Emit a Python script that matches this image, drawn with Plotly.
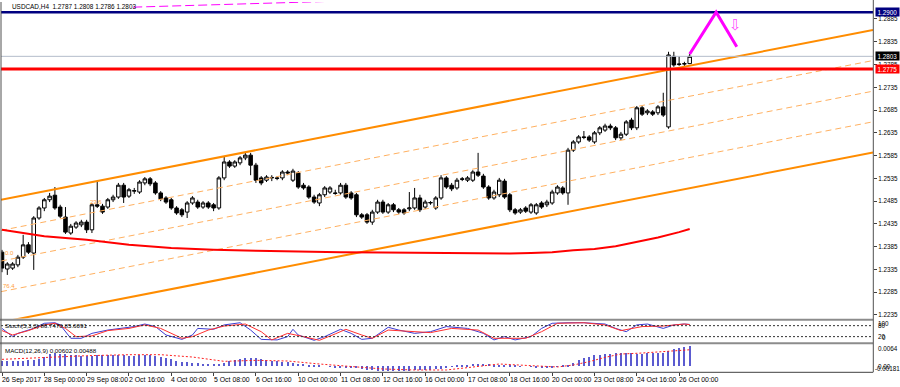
import plotly.graph_objects as go

W, H = 900, 387

# ---------------- data ----------------
bar_idx = list(range(131))
open_ = [1.2373,1.2336,1.2338,1.2345,1.2362,1.2389,1.2371,1.2448,1.2470,1.2488,
         1.2498,1.2472,1.2450,1.2415,1.2428,1.2433,1.2439,1.2422,1.2477,1.2474,
         1.2472,1.2488,1.2494,1.2520,1.2496,1.2507,1.2505,1.2525,1.2534,1.2525,
         1.2503,1.2492,1.2488,1.2470,1.2466,1.2461,1.2481,1.2483,1.2472,1.2481,
         1.2477,1.2470,1.2536,1.2571,1.2562,1.2569,1.2580,1.2586,1.2564,1.2536,
         1.2531,1.2536,1.2536,1.2536,1.2549,1.2531,1.2547,1.2520,1.2516,1.2494,
         1.2481,1.2499,1.2505,1.2503,1.2503,1.2520,1.2503,1.2499,1.2455,1.2455,
         1.2439,1.2461,1.2483,1.2461,1.2477,1.2466,1.2466,1.2468,1.2470,1.2492,
         1.2472,1.2481,1.2470,1.2492,1.2536,1.2520,1.2514,1.2534,1.2531,1.2531,
         1.2549,1.2540,1.2516,1.2492,1.2499,1.2529,1.2499,1.2466,1.2461,1.2470,
         1.2461,1.2459,1.2481,1.2477,1.2481,1.2503,1.2514,1.2503,1.2597,1.2615,
         1.2626,1.2626,1.2615,1.2635,1.2641,1.2650,1.2646,1.2624,1.2632,1.2663,
         1.2646,1.2690,1.2679,1.2681,1.2679,1.2692,1.2648,1.2803,1.2785,1.2786,
         1.2787]
high = [1.2378,1.2351,1.2351,1.2367,1.2411,1.2395,1.2452,1.2474,1.2492,1.2503,
        1.2516,1.2477,1.2472,1.2435,1.2441,1.2444,1.2444,1.2481,1.2527,1.2479,
        1.2492,1.2499,1.2525,1.2525,1.2514,1.2514,1.2531,1.2538,1.2538,1.2529,
        1.2507,1.2496,1.2492,1.2474,1.2470,1.2485,1.2496,1.2488,1.2485,1.2485,
        1.2481,1.2540,1.2582,1.2575,1.2575,1.2584,1.2593,1.2591,1.2569,1.2540,
        1.2542,1.2542,1.2540,1.2553,1.2553,1.2556,1.2551,1.2525,1.2520,1.2499,
        1.2503,1.2518,1.2518,1.2510,1.2525,1.2525,1.2507,1.2503,1.2459,1.2459,
        1.2466,1.2488,1.2488,1.2481,1.2481,1.2470,1.2470,1.2505,1.2514,1.2499,
        1.2488,1.2485,1.2496,1.2542,1.2540,1.2525,1.2536,1.2538,1.2540,1.2553,
        1.2591,1.2545,1.2520,1.2510,1.2536,1.2534,1.2503,1.2470,1.2470,1.2474,
        1.2481,1.2481,1.2485,1.2488,1.2510,1.2520,1.2518,1.2602,1.2619,1.2630,
        1.2639,1.2630,1.2639,1.2650,1.2655,1.2655,1.2650,1.2637,1.2663,1.2668,
        1.2694,1.2694,1.2687,1.2685,1.2696,1.2723,1.2813,1.2813,1.2803,1.2791,
        1.2808]
low = [1.2329,1.2323,1.2334,1.2340,1.2358,1.2369,1.2334,1.2444,1.2463,1.2483,
       1.2466,1.2448,1.2413,1.2411,1.2424,1.2428,1.2415,1.2415,1.2470,1.2457,
       1.2468,1.2483,1.2490,1.2481,1.2492,1.2501,1.2501,1.2520,1.2518,1.2499,
       1.2485,1.2479,1.2466,1.2455,1.2450,1.2448,1.2477,1.2468,1.2468,1.2468,
       1.2463,1.2466,1.2531,1.2558,1.2558,1.2564,1.2575,1.2542,1.2525,1.2520,
       1.2527,1.2529,1.2531,1.2531,1.2542,1.2527,1.2512,1.2510,1.2490,1.2479,
       1.2474,1.2494,1.2501,1.2499,1.2499,1.2490,1.2488,1.2450,1.2446,1.2435,
       1.2433,1.2457,1.2457,1.2457,1.2461,1.2457,1.2455,1.2463,1.2466,1.2461,
       1.2468,1.2477,1.2466,1.2488,1.2512,1.2507,1.2510,1.2529,1.2527,1.2527,
       1.2538,1.2512,1.2488,1.2488,1.2494,1.2490,1.2461,1.2455,1.2457,1.2459,
       1.2457,1.2455,1.2468,1.2472,1.2477,1.2499,1.2499,1.2477,1.2593,1.2611,
       1.2621,1.2615,1.2611,1.2630,1.2637,1.2641,1.2619,1.2619,1.2628,1.2641,
       1.2641,1.2672,1.2674,1.2672,1.2674,1.2670,1.2644,1.2780,1.2782,1.2782,
       1.2786]
close = [1.2338,1.2347,1.2347,1.2362,1.2389,1.2373,1.2448,1.2470,1.2488,1.2496,
         1.2470,1.2452,1.2417,1.2430,1.2437,1.2439,1.2422,1.2477,1.2474,1.2461,
         1.2488,1.2494,1.2520,1.2494,1.2510,1.2508,1.2527,1.2534,1.2523,1.2503,
         1.2490,1.2483,1.2470,1.2459,1.2455,1.2481,1.2492,1.2472,1.2481,1.2472,
         1.2470,1.2536,1.2571,1.2562,1.2571,1.2580,1.2586,1.2564,1.2531,1.2525,
         1.2538,1.2537,1.2535,1.2549,1.2547,1.2551,1.2516,1.2514,1.2494,1.2483,
         1.2499,1.2514,1.2514,1.2502,1.2520,1.2494,1.2492,1.2455,1.2450,1.2439,
         1.2461,1.2483,1.2461,1.2477,1.2466,1.2461,1.2459,1.2470,1.2492,1.2466,
         1.2483,1.2482,1.2492,1.2536,1.2516,1.2512,1.2531,1.2533,1.2536,1.2549,
         1.2542,1.2516,1.2492,1.2505,1.2531,1.2494,1.2466,1.2459,1.2466,1.2463,
         1.2477,1.2477,1.2472,1.2483,1.2505,1.2516,1.2503,1.2597,1.2615,1.2626,
         1.2625,1.2619,1.2635,1.2646,1.2650,1.2646,1.2624,1.2632,1.2659,1.2646,
         1.2690,1.2676,1.2683,1.2676,1.2692,1.2674,1.2806,1.2784,1.2786,1.2787,
         1.2803]

# moving average (read points)
ma_idx = [0, 8, 16, 24, 32, 40, 48, 56, 64, 72, 80, 88, 96, 100, 104, 108, 112, 116, 120, 124, 128, 130]
ma_val = [1.2422, 1.2408, 1.2400, 1.2389, 1.2382, 1.2378, 1.2376, 1.2374, 1.2373, 1.2372, 1.2371,
          1.2370, 1.2370, 1.2371, 1.2373, 1.2377, 1.2380, 1.2386, 1.2395, 1.2405, 1.2417, 1.2424]

# channel (anchor bars at left/right edge and prices of the upper line), width
chan_idx = [-0.19, 164.65]
chan_upper = [1.2488, 1.2861]
chan_width = 0.0269
chan_levels = [0.25, 0.5, 0.75]

hline_blue = 1.2900
hline_red = 1.2775
bid_price = 1.2803

zigzag_idx = [130, 135, 138.9]
zigzag_val = [1.2808, 1.2900, 1.2824]
arrow_at = (138.75, 1.2872)
top_dash_idx = [24.8, 65.8]
top_dash_val = [1.2911, 1.2925]

# stochastic
k_idx = [0, 2, 3, 6, 8, 10, 11, 13, 15, 17, 20, 22, 25, 27, 29, 31, 34, 36, 37, 40, 42, 45, 47, 49,
         52, 54, 55, 56, 59, 61, 64, 66, 68, 70, 73, 75, 78, 81, 84, 88, 91, 93, 95, 97, 100, 102,
         104, 107, 110, 114, 116, 118, 120, 122, 125, 127, 129, 130]
k_val = [65, 20, 38, 65, 93, 96, 84, 11, 11, 38, 56, 65, 75, 89, 75, 29, 5, 29, 65, 60, 84, 96, 56, 5,
         2, 20, 60, 29, 0, 20, 60, 38, 5, 11, 71, 56, 38, 47, 75, 65, 38, 2, 20, 2, 20, 65,
         93, 96, 96, 89, 65, 47, 84, 89, 65, 84, 89, 86.747]
d_idx = [0, 2, 5, 8, 10, 12, 14, 17, 20, 24, 27, 30, 34, 36, 39, 42, 46, 49, 51, 54, 57, 60, 63, 65,
         68, 70, 73, 77, 81, 85, 90, 93, 95, 99, 102, 105, 110, 114, 117, 121, 125, 129, 130]
d_val = [53, 29, 53, 84, 93, 65, 20, 24, 53, 65, 84, 65, 11, 20, 56, 78, 89, 47, 2, 38, 20, 0, 35, 60,
         29, 11, 56, 47, 42, 65, 56, 11, 11, 11, 47, 93, 96, 84, 53, 75, 78, 89, 85.6091]

# MACD
macd_hist = [0.0018,0.0018,0.0017,0.0017,0.0018,0.0019,0.0020,0.0024,0.0030,0.0038,
             0.0040,0.0039,0.0037,0.0035,0.0034,0.0033,0.0032,0.0033,0.0034,0.0034,
             0.0034,0.0034,0.0034,0.0034,0.0033,0.0033,0.0034,0.0035,0.0035,0.0033,
             0.0030,0.0026,0.0022,0.0018,0.0015,0.0013,0.0011,0.0010,0.0009,0.0008,
             0.0007,0.0008,0.0012,0.0016,0.0019,0.0022,0.0025,0.0027,0.0026,0.0024,
             0.0021,0.0018,0.0016,0.0014,0.0013,0.0011,0.0009,0.0007,0.0005,0.0003,
             0.0002,0.0000,-0.0001,-0.0002,-0.0002,-0.0003,-0.0004,-0.0006,-0.0008,-0.0010,
             -0.0012,-0.0013,-0.0014,-0.0015,-0.0015,-0.0015,-0.0014,-0.0013,-0.0012,-0.0011,
             -0.0010,-0.0010,-0.0009,-0.0007,-0.0004,-0.0001,0.0002,0.0004,0.0006,0.0007,
             0.0008,0.0008,0.0007,0.0006,0.0005,0.0004,0.0003,0.0002,0.0001,0.0000,
             -0.0001,-0.0002,-0.0003,-0.0003,-0.0002,-0.0001,0.0002,0.0006,0.0012,0.0020,
             0.0026,0.0030,0.0034,0.0036,0.0038,0.0039,0.0040,0.0040,0.0040,0.0040,
             0.0039,0.0039,0.0040,0.0040,0.0041,0.0042,0.0048,0.0054,0.0057,0.0059,
             0.00602]
sig_idx = [0, 8, 16, 24, 30, 36, 42, 48, 54, 60, 66, 72, 78, 84, 88, 94, 100, 105, 108, 111, 114,
           117, 121, 124, 130]
sig_val = [0.0020, 0.0026, 0.0031, 0.0034, 0.0034, 0.0027, 0.0014, 0.0017, 0.0015, 0.0006, -0.0002,
           -0.0009, -0.0012, -0.0012, -0.0005, 0.0006, 0.0001, -0.0003, 0.0003, 0.0013, 0.0026,
           0.0036, 0.0039, 0.0043, 0.00488]

price_ticks = [1.2235, 1.2285, 1.2335, 1.2385, 1.2435, 1.2485, 1.2535, 1.2585, 1.2635, 1.2685,
               1.2735, 1.2785, 1.2835, 1.2885]
time_tick_idx = [0, 8, 16, 24, 32, 40, 48, 56, 64, 72, 80, 88, 96, 104, 112, 120, 128]
time_tick_text = ["26 Sep 2017", "28 Sep 00:00", "29 Sep 08:00", "2 Oct 16:00", "4 Oct 00:00",
                  "5 Oct 08:00", "6 Oct 16:00", "10 Oct 00:00", "11 Oct 08:00", "12 Oct 16:00",
                  "16 Oct 00:00", "17 Oct 08:00", "18 Oct 16:00", "20 Oct 00:00", "23 Oct 08:00",
                  "24 Oct 16:00", "26 Oct 00:00"]

# ---------------- layout helpers (pixels -> paper) ----------------
def py(p):
    return (H - p) / H

def px(p):
    return p / W

FONT = "Liberation Sans"
X0, X1 = chan_idx

fig = go.Figure()

fig.add_trace(go.Candlestick(
    x=bar_idx, open=open_, high=high, low=low, close=close,
    increasing=dict(line=dict(color="black", width=1), fillcolor="white"),
    decreasing=dict(line=dict(color="black", width=1), fillcolor="black"),
    whiskerwidth=0, showlegend=False, hoverinfo="skip", xaxis="x", yaxis="y"))

# channel
orange = "#ff8c00"
fig.add_trace(go.Scatter(x=chan_idx, y=chan_upper, mode="lines",
                         line=dict(color=orange, width=2), xaxis="x", yaxis="y", showlegend=False))
fig.add_trace(go.Scatter(x=chan_idx, y=[v - chan_width for v in chan_upper], mode="lines",
                         line=dict(color=orange, width=2), xaxis="x", yaxis="y", showlegend=False))
for f in chan_levels:
    fig.add_trace(go.Scatter(x=chan_idx, y=[v - chan_width * f for v in chan_upper], mode="lines",
                             line=dict(color="#ffb060", width=1, dash="6px,4px"),
                             xaxis="x", yaxis="y", showlegend=False))

# moving average
fig.add_trace(go.Scatter(x=ma_idx, y=ma_val, mode="lines", line=dict(color="#ff0000", width=2),
                         xaxis="x", yaxis="y", showlegend=False))

# horizontal lines
for val, col, wd in [(bid_price, "#b4bccb", 1), (hline_red, "#ff0000", 3), (hline_blue, "#000080", 2.5)]:
    fig.add_trace(go.Scatter(x=[X0, X1], y=[val, val], mode="lines", line=dict(color=col, width=wd),
                             xaxis="x", yaxis="y", showlegend=False))

# magenta drawings
fig.add_trace(go.Scatter(x=zigzag_idx, y=zigzag_val, mode="lines", line=dict(color="#ff00ff", width=3),
                         xaxis="x", yaxis="y", showlegend=False))
fig.add_trace(go.Scatter(x=top_dash_idx, y=top_dash_val, mode="lines",
                         line=dict(color="#ff00ff", width=1, dash="9px,4px"),
                         xaxis="x", yaxis="y", showlegend=False))

# stochastic
fig.add_trace(go.Scatter(x=k_idx, y=k_val, mode="lines", line=dict(color="#3c3cd2", width=1),
                         xaxis="x", yaxis="y2", showlegend=False))
fig.add_trace(go.Scatter(x=d_idx, y=d_val, mode="lines", line=dict(color="#ff3030", width=1),
                         xaxis="x", yaxis="y2", showlegend=False))
for lv in (80, 20):
    fig.add_trace(go.Scatter(x=[X0, X1], y=[lv, lv], mode="lines",
                             line=dict(color="#303030", width=1, dash="2px,2px"),
                             xaxis="x", yaxis="y2", showlegend=False))

# MACD
fig.add_trace(go.Bar(x=bar_idx, y=macd_hist, width=0.22, marker=dict(color="#5b5bd0", line=dict(width=0)),
                     xaxis="x", yaxis="y3", showlegend=False))
fig.add_trace(go.Scatter(x=sig_idx, y=sig_val, mode="lines", line=dict(color="#ff2020", width=1, dash="2px,2px"),
                         xaxis="x", yaxis="y3", showlegend=False))

annotations = []
def txt(text, x, y, size=6.3, color="black", xref="paper", yref="paper", xanchor="left", **kw):
    annotations.append(dict(text=text, x=x, y=y, xref=xref, yref=yref, xanchor=xanchor,
                            yanchor="middle", showarrow=False,
                            font=dict(family=FONT, size=size, color=color), borderpad=0, **kw))

txt("USDCAD,H4\u00a0\u00a01.2787 1.2808 1.2786 1.2803", px(11), py(7), size=6.4)
txt("Stoch(5,3,3) 86.7470 85.6091", px(4), py(325.5), size=6.2)
txt("MACD(12,26,9) 0.00602 0.00488", px(4), py(350.5), size=6.2)

for i, t in zip(time_tick_idx, time_tick_text):
    txt(t, i, py(379.5), size=6.9, xref="x", xshift=-1)

# right labels boxes
for val, bg in [(hline_blue, "#000080"), (bid_price, "#000000"), (hline_red, "#ff0000")]:
    annotations.append(dict(text=f"{val:.4f}", x=px(875), y=val, xref="paper", yref="y",
                            xanchor="left", yanchor="middle", showarrow=False, bgcolor=bg,
                            width=23, height=8, borderpad=0, align="center",
                            font=dict(family=FONT, size=6.3, color="white")))

# stoch / macd axis labels
txt("100", px(877), py(323.5), size=6.3)
txt("80", px(877), py(325), size=6.3)
txt("20", px(877), py(336.5), size=6.3)
txt("0", px(881), py(337.5), size=6.3)
txt("0.0064", px(877), py(348), size=6.3)
txt("0.00", px(877), py(366.5), size=6.3)
txt("-0.00181", px(874), py(368.5), size=6.3)

# fib labels
txt("0.0", px(4), py(253), size=6, color="#ffa040")
txt("76.4", px(2), py(286), size=6, color="#ffa040")
txt("23.6", 16.5, 1.2483, size=6, color="#ffa040", xref="x", yref="y")

# arrow
annotations.append(dict(text="\u21e9", x=arrow_at[0], y=arrow_at[1], xref="x", yref="y",
                        showarrow=False, font=dict(family="DejaVu Sans", size=15, color="#ff4dff")))

shapes = []
def hl(y, x0=0, x1=873, color="#8c8c8c", width=2):
    shapes.append(dict(type="line", xref="paper", yref="paper", x0=px(x0), x1=px(x1),
                       y0=py(y), y1=py(y), line=dict(color=color, width=width)))
def vl(x, y0, y1, color="#505050", width=1):
    shapes.append(dict(type="line", xref="paper", yref="paper", x0=px(x), x1=px(x),
                       y0=py(y0), y1=py(y1), line=dict(color=color, width=width)))

hl(319.8)
hl(343.3)
hl(372.3, color="#404040", width=1)
vl(1, 2, 372.3)
vl(873.3, 0, 372.3)

main_rng = [1.22273, 1.29223]
fig.update_layout(
    width=W, height=H,
    margin=dict(l=0, r=0, t=0, b=0),
    paper_bgcolor="white", plot_bgcolor="white",
    showlegend=False, boxgap=0.3, boxgroupgap=0.05,
    bargap=0,
    xaxis=dict(domain=[px(1), px(873)], range=[X0, X1], anchor="y3",
               showgrid=False, zeroline=False, showticklabels=False,
               tickvals=time_tick_idx, ticks="outside", ticklen=3, tickcolor="#404040",
               showline=False, rangeslider=dict(visible=False), fixedrange=True),
    yaxis=dict(domain=[py(318.5), py(2)], range=main_rng, side="right", anchor="x",
               showgrid=False, zeroline=False, tickvals=price_ticks,
               ticktext=[f"{v:.4f}" for v in price_ticks], ticks="outside", ticklen=3,
               tickcolor="#404040", tickfont=dict(family=FONT, size=6.3, color="black"),
               showline=False),
    yaxis2=dict(domain=[py(342), py(321)], range=[-9.3, 105.5], anchor="x", showgrid=False,
                zeroline=False, showticklabels=False, showline=False),
    yaxis3=dict(domain=[py(372), py(344.5)], range=[-0.00181, 0.00647], anchor="x", showgrid=False,
                zeroline=False, showticklabels=False, showline=False),
    annotations=annotations, shapes=shapes,
)

fig.write_html("out.html", config={"displayModeBar": False},
               post_script="document.body.style.margin='0px';document.body.style.overflow='hidden';")
